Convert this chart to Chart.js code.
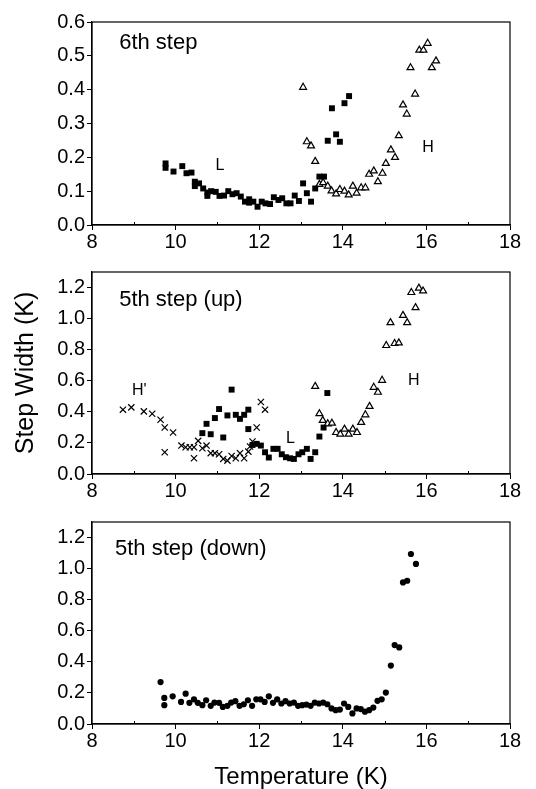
<!DOCTYPE html>
<html lang="en">
<head>
    <meta charset="UTF-8">
    <title>Step Width vs Temperature</title>
    <script src="https://cdn.jsdelivr.net/npm/chart.js"></script>
    <style>
        body {
            margin: 0;
            background: #fff;
            width: 536px;
            height: 789px;
            position: relative;
            overflow: hidden;
        }

        canvas {
            position: absolute;
            left: 0;
        }
    </style>
</head>
<body>

<canvas id="panel6" width="536" height="250" style="top:0px"></canvas>
<canvas id="panel5up" width="536" height="250" style="top:250px"></canvas>
<canvas id="panel5down" width="536" height="289" style="top:500px"></canvas>

<script>
    // tick labels
    const tempTicks = [8, 10, 12, 14, 16, 18];
    const tempMinorTicks = [9, 11, 13, 15, 17];
    const width6Ticks = [0.0, 0.1, 0.2, 0.3, 0.4, 0.5, 0.6];
    const width5Ticks = [0.0, 0.2, 0.4, 0.6, 0.8, 1.0, 1.2];

    // 6th step, L (filled squares)
    const step6LowT = [9.76, 9.76, 9.95, 10.16, 10.26, 10.38, 10.46, 10.46, 10.56, 10.66, 10.76, 10.76, 10.85, 10.96, 11.05, 11.16, 11.26, 11.36, 11.46, 11.56, 11.66, 11.76, 11.76, 11.86, 11.96, 12.06, 12.15, 12.26, 12.35, 12.46, 12.55, 12.65, 12.75, 12.85, 12.95, 13.05, 13.14, 13.24, 13.34, 13.44, 13.55, 13.64, 13.74, 13.84, 13.93, 14.04, 14.15];
    const step6LowW = [0.182, 0.169, 0.158, 0.174, 0.153, 0.155, 0.128, 0.115, 0.123, 0.108, 0.096, 0.086, 0.100, 0.098, 0.086, 0.087, 0.100, 0.091, 0.094, 0.084, 0.069, 0.076, 0.066, 0.069, 0.054, 0.069, 0.064, 0.062, 0.082, 0.074, 0.079, 0.064, 0.064, 0.087, 0.071, 0.123, 0.094, 0.069, 0.108, 0.143, 0.143, 0.249, 0.345, 0.268, 0.246, 0.360, 0.381];

    // 6th step, H (open triangles)
    const step6HighT = [13.05, 13.14, 13.24, 13.34, 13.44, 13.53, 13.64, 13.73, 13.84, 13.93, 14.04, 14.14, 14.24, 14.33, 14.44, 14.54, 14.63, 14.74, 14.84, 14.95, 15.03, 15.15, 15.25, 15.34, 15.44, 15.53, 15.62, 15.73, 15.83, 15.93, 16.03, 16.13, 16.23];
    const step6HighW = [0.407, 0.246, 0.234, 0.188, 0.120, 0.125, 0.115, 0.101, 0.092, 0.105, 0.100, 0.089, 0.115, 0.094, 0.110, 0.110, 0.150, 0.160, 0.128, 0.153, 0.182, 0.222, 0.200, 0.264, 0.355, 0.328, 0.465, 0.387, 0.517, 0.517, 0.537, 0.465, 0.485];

    // 5th step up, H' (crosses)
    const step5UpHpT = [8.74, 8.94, 9.24, 9.44, 9.64, 9.74, 9.74, 9.94, 10.14, 10.24, 10.34, 10.44, 10.44, 10.54, 10.64, 10.74, 10.84, 10.94, 11.04, 11.14, 11.24, 11.34, 11.44, 11.54, 11.64, 11.74, 11.78, 11.84, 11.94, 12.04, 12.14];
    const step5UpHpW = [0.414, 0.429, 0.403, 0.388, 0.349, 0.299, 0.140, 0.267, 0.183, 0.172, 0.172, 0.172, 0.101, 0.213, 0.166, 0.183, 0.134, 0.134, 0.127, 0.097, 0.086, 0.116, 0.101, 0.134, 0.101, 0.144, 0.177, 0.209, 0.299, 0.463, 0.414];

    // 5th step up, L (filled squares)
    const step5UpLowT = [10.64, 10.74, 10.84, 10.94, 11.04, 11.14, 11.24, 11.34, 11.44, 11.54, 11.64, 11.74, 11.74, 11.84, 11.94, 12.04, 12.14, 12.23, 12.34, 12.44, 12.54, 12.64, 12.74, 12.83, 12.94, 13.03, 13.14, 13.23, 13.34, 13.44, 13.54, 13.63];
    const step5UpLowW = [0.263, 0.323, 0.256, 0.360, 0.418, 0.235, 0.377, 0.543, 0.381, 0.355, 0.381, 0.414, 0.289, 0.187, 0.194, 0.183, 0.140, 0.106, 0.162, 0.162, 0.127, 0.108, 0.101, 0.097, 0.127, 0.140, 0.162, 0.097, 0.140, 0.241, 0.299, 0.521];

    // 5th step up, H (open triangles)
    const step5UpHighT = [13.34, 13.44, 13.52, 13.64, 13.74, 13.84, 13.94, 14.04, 14.14, 14.24, 14.34, 14.44, 14.54, 14.64, 14.74, 14.84, 14.94, 15.04, 15.14, 15.24, 15.34, 15.44, 15.54, 15.64, 15.74, 15.82, 15.92];
    const step5UpHighW = [0.564, 0.388, 0.345, 0.323, 0.327, 0.267, 0.256, 0.289, 0.256, 0.289, 0.267, 0.332, 0.381, 0.435, 0.558, 0.526, 0.603, 0.827, 0.974, 0.840, 0.844, 1.021, 0.974, 1.168, 1.071, 1.196, 1.178];

    // 5th step down (filled circles)
    const step5DownT = [9.64, 9.73, 9.73, 9.93, 10.13, 10.24, 10.33, 10.44, 10.53, 10.64, 10.73, 10.84, 10.93, 11.04, 11.13, 11.24, 11.33, 11.43, 11.53, 11.63, 11.73, 11.83, 11.93, 12.03, 12.13, 12.23, 12.33, 12.43, 12.53, 12.63, 12.73, 12.83, 12.93, 13.03, 13.13, 13.23, 13.33, 13.43, 13.53, 13.63, 13.73, 13.83, 13.93, 14.03, 14.13, 14.23, 14.33, 14.43, 14.53, 14.63, 14.73, 14.83, 14.93, 15.03, 15.15, 15.24, 15.35, 15.44, 15.54, 15.63, 15.75];
    const step5DownW = [0.270, 0.168, 0.121, 0.178, 0.142, 0.195, 0.136, 0.159, 0.136, 0.121, 0.153, 0.117, 0.138, 0.136, 0.110, 0.117, 0.138, 0.147, 0.117, 0.127, 0.153, 0.117, 0.159, 0.159, 0.142, 0.178, 0.136, 0.159, 0.132, 0.147, 0.132, 0.138, 0.117, 0.121, 0.125, 0.117, 0.138, 0.132, 0.138, 0.127, 0.100, 0.089, 0.093, 0.132, 0.110, 0.068, 0.100, 0.096, 0.079, 0.089, 0.106, 0.149, 0.159, 0.202, 0.376, 0.508, 0.493, 0.911, 0.922, 1.094, 1.030];

    const FONT = "'Liberation Sans', Arial, sans-serif";

    function zip(xs, ys) {
        return xs.map((x, i) => ({ x: x, y: ys[i] }));
    }

    function squares(xs, ys) {
        return { data: zip(xs, ys), pointStyle: 'rect', pointRadius: 4.2, backgroundColor: '#000', borderColor: '#000', borderWidth: 0 };
    }
    function triangles(xs, ys) {
        return { data: zip(xs, ys), pointStyle: 'triangle', pointRadius: 4, backgroundColor: '#fff', borderColor: '#000', borderWidth: 1.2 };
    }
    function crosses(xs, ys) {
        return { data: zip(xs, ys), pointStyle: 'crossRot', pointRadius: 4.4, backgroundColor: '#000', borderColor: '#000', borderWidth: 1.2 };
    }
    function circles(xs, ys) {
        return { data: zip(xs, ys), pointStyle: 'circle', pointRadius: 3.1, backgroundColor: '#000', borderColor: '#000', borderWidth: 0 };
    }

    // frame + inward minor ticks + panel labels
    const framePlugin = {
        id: 'frame',
        afterDraw(chart, args, opts) {
            const ctx = chart.ctx;
            const a = chart.chartArea;
            const xs = chart.scales.x;
            ctx.save();
            ctx.strokeStyle = '#000';
            ctx.lineWidth = 1.2;
            ctx.strokeRect(a.left, a.top, a.right - a.left, a.bottom - a.top);
            ctx.lineWidth = 1;
            ctx.beginPath();
            tempMinorTicks.forEach(v => {
                const px = Math.round(xs.getPixelForValue(v)) + 0.5;
                ctx.moveTo(px, a.bottom);
                ctx.lineTo(px, a.bottom - 3);
            });
            ctx.stroke();
            ctx.fillStyle = '#000';
            ctx.textBaseline = 'middle';
            (opts.labels || []).forEach(l => {
                ctx.font = l.size + 'px ' + FONT;
                ctx.textAlign = l.align || 'center';
                ctx.fillText(l.text, xs.getPixelForValue(l.x), chart.scales.y.getPixelForValue(l.y));
            });
            ctx.restore();
        }
    };

    function makeChart(id, datasets, yMax, yTicks, xAxisHeight, labels, yTitle, xTitle) {
        const ctx = document.getElementById(id).getContext('2d');
        return new Chart(ctx, {
            type: 'scatter',
            data: { datasets: datasets },
            plugins: [framePlugin],
            options: {
                responsive: false,
                animation: false,
                devicePixelRatio: 1,
                layout: { padding: { top: 22, right: 26, left: 0, bottom: 0 } },
                plugins: {
                    legend: { display: false },
                    tooltip: { enabled: false },
                    frame: { labels: labels }
                },
                scales: {
                    x: {
                        type: 'linear',
                        min: 8,
                        max: 18,
                        afterBuildTicks: s => { s.ticks = tempTicks.map(v => ({ value: v })); },
                        afterFit: s => { s.height = xAxisHeight; },
                        grid: { drawOnChartArea: false, drawTicks: true, tickLength: 5, color: '#000', lineWidth: 1 },
                        border: { display: true, color: '#000', width: 1.2 },
                        ticks: { color: '#000', padding: 0, maxRotation: 0, font: { family: FONT, size: 20 } },
                        title: {
                            display: !!xTitle,
                            text: xTitle || '',
                            color: '#000',
                            padding: { top: 0, bottom: 0 },
                            font: { family: FONT, size: 24, lineHeight: 1 }
                        }
                    },
                    y: {
                        type: 'linear',
                        min: 0,
                        max: yMax,
                        afterBuildTicks: s => { s.ticks = yTicks.map(v => ({ value: v })); },
                        afterFit: s => { s.width = 92; },
                        grid: { drawOnChartArea: false, drawTicks: true, tickLength: 5, color: '#000', lineWidth: 1 },
                        border: { display: true, color: '#000', width: 1.2 },
                        ticks: {
                            color: '#000',
                            padding: 2,
                            font: { family: FONT, size: 20 },
                            callback: v => Number(v).toFixed(1)
                        },
                        title: {
                            display: !!yTitle,
                            text: yTitle || '',
                            color: '#000',
                            padding: { top: 11, bottom: 0 },
                            font: { family: FONT, size: 25, lineHeight: 1.2 }
                        }
                    }
                }
            }
        });
    }

    makeChart('panel6',
        [squares(step6LowT, step6LowW), triangles(step6HighT, step6HighW)],
        0.6, width6Ticks, 25,
        [
            { text: '6th step', x: 8.65, y: 0.538, size: 22, align: 'left' },
            { text: 'L', x: 11.06, y: 0.177, size: 16 },
            { text: 'H', x: 16.04, y: 0.23, size: 16 }
        ]);

    makeChart('panel5up',
        [crosses(step5UpHpT, step5UpHpW), squares(step5UpLowT, step5UpLowW), triangles(step5UpHighT, step5UpHighW)],
        1.3, width5Ticks, 26,
        [
            { text: '5th step (up)', x: 8.65, y: 1.12, size: 22, align: 'left' },
            { text: "H'", x: 9.13, y: 0.535, size: 16 },
            { text: 'L', x: 12.75, y: 0.226, size: 16 },
            { text: 'H', x: 15.70, y: 0.60, size: 16 }
        ],
        'Step Width (K)');

    makeChart('panel5down',
        [circles(step5DownT, step5DownW)],
        1.3, width5Ticks, 65,
        [
            { text: '5th step (down)', x: 8.55, y: 1.126, size: 22, align: 'left' }
        ],
        null, 'Temperature (K)');
</script>

</body>
</html>
